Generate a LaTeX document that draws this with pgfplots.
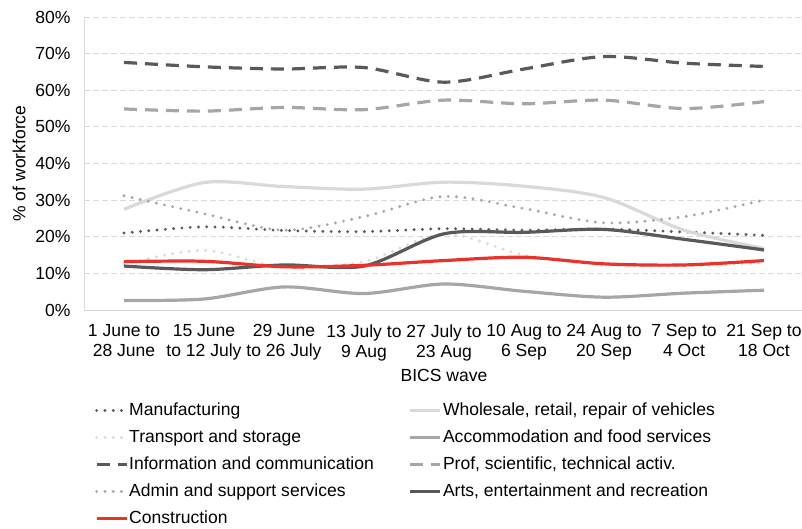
\documentclass[border=0pt]{standalone}
\usepackage{pgfplots}
\usepackage{pgfplotstable}
\pgfplotsset{compat=1.18}
\usepackage{fontspec}
\setmainfont{Liberation Sans}
\definecolor{dg}{HTML}{595959}
\definecolor{mg}{HTML}{A6A6A6}
\definecolor{lg}{HTML}{D9D9D9}
\definecolor{gridc}{HTML}{D9D9D9}
\definecolor{redc}{HTML}{E8322A}
\pgfplotstableread{
x manu whol trans accom info prof admin arts constr
0 21.0 27.5 12.5 2.6 67.6 54.9 31.2 12.0 13.2
1 22.7 34.8 16.3 3.0 66.4 54.3 26.3 11.0 13.3
2 21.7 33.7 11.6 6.3 65.8 55.3 21.8 12.3 11.8
3 21.4 33.0 13.2 4.5 66.2 54.7 25.5 12.0 12.2
4 22.2 34.9 20.8 7.1 62.2 57.3 31.0 20.8 13.5
5 21.8 33.8 15.0 5.1 65.8 56.3 27.7 21.2 14.4
6 22.1 30.7 12.4 3.5 69.2 57.3 23.8 22.0 12.6
7 21.3 21.8 12.0 4.6 67.4 55.0 25.5 19.3 12.3
8 20.4 16.8 12.9 5.4 66.5 56.9 30.0 16.4 13.5
}\datatab
\begin{document}
\begin{tikzpicture}[font=\fontsize{17.6}{20}\selectfont]
\useasboundingbox (0bp,0bp) rectangle (802bp,529bp);
\begin{axis}[
  at={(84bp,219bp)}, anchor=south west,
  scale only axis, width=720bp, height=293bp,
  xmin=-0.5, xmax=8.5, ymin=0, ymax=80,
  xtick={0,...,8},
  xticklabels={{1 June to\\28 June},{15 June\\to 12 July},{29 June\\to 26 July},{13 July to\\9 Aug},{27 July to\\23 Aug},{10 Aug to\\6 Sep},{24 Aug to\\20 Sep},{7 Sep to\\4 Oct},{21 Sep to\\18 Oct}},
  xticklabel style={align=center, font=\fontsize{17.6}{20}\selectfont, yshift=-11bp},
  ytick={0,10,...,80},
  yticklabels={0\%,10\%,20\%,30\%,40\%,50\%,60\%,70\%,80\%},
  yticklabel style={xshift=-10bp},
  major tick length=0pt,
  axis lines*=left,
  axis line style={draw=gridc, line width=1bp, -},
  ymajorgrids,
  grid style={draw=gridc, line width=0.9bp, dash pattern=on 6bp off 3bp},
  xlabel={BICS wave},
  ylabel={\% of workforce},
  every axis x label/.style={at={(axis description cs:0.5,-0.222)}, anchor=center},
  every axis y label/.style={at={(axis description cs:-0.0903,0.5)}, rotate=90, anchor=center},
  legend columns=2,
  legend cell align=left,
  legend image code/.code={\draw[#1] (0bp,0bp) -- (30bp,0bp);},
  legend style={draw=none, fill=none, inner sep=0pt, outer sep=0pt,
    at={(axis description cs:0.0153,-0.3157)}, anchor=north west,
    nodes={inner xsep=1bp, inner ysep=0bp, text height=12.5bp, text depth=3.5bp},
    row sep=11bp,
    /tikz/every even column/.append style={column sep=34bp}},
  every axis plot/.append style={line width=3.2bp, smooth, tension=0.5},
]
\addplot[dg, line cap=round, dash pattern=on 0bp off 8.3bp] table[x=x,y=manu]{\datatab};
\addlegendentry{Manufacturing}
\addplot[lg] table[x=x,y=whol]{\datatab};
\addlegendentry{Wholesale, retail, repair of vehicles}
\addplot[lg, line cap=round, dash pattern=on 0bp off 8.3bp] table[x=x,y=trans]{\datatab};
\addlegendentry{Transport and storage}
\addplot[mg] table[x=x,y=accom]{\datatab};
\addlegendentry{Accommodation and food services}
\addplot[dg, dash pattern=on 13bp off 8bp] table[x=x,y=info]{\datatab};
\addlegendentry{Information and communication}
\addplot[mg, dash pattern=on 13bp off 8bp] table[x=x,y=prof]{\datatab};
\addlegendentry{Prof, scientific, technical activ.}
\addplot[mg, line cap=round, dash pattern=on 0bp off 8.3bp] table[x=x,y=admin]{\datatab};
\addlegendentry{Admin and support services}
\addplot[dg] table[x=x,y=arts]{\datatab};
\addlegendentry{Arts, entertainment and recreation}
\addplot[redc] table[x=x,y=constr]{\datatab};
\addlegendentry{Construction}
\end{axis}
\end{tikzpicture}
\end{document}
